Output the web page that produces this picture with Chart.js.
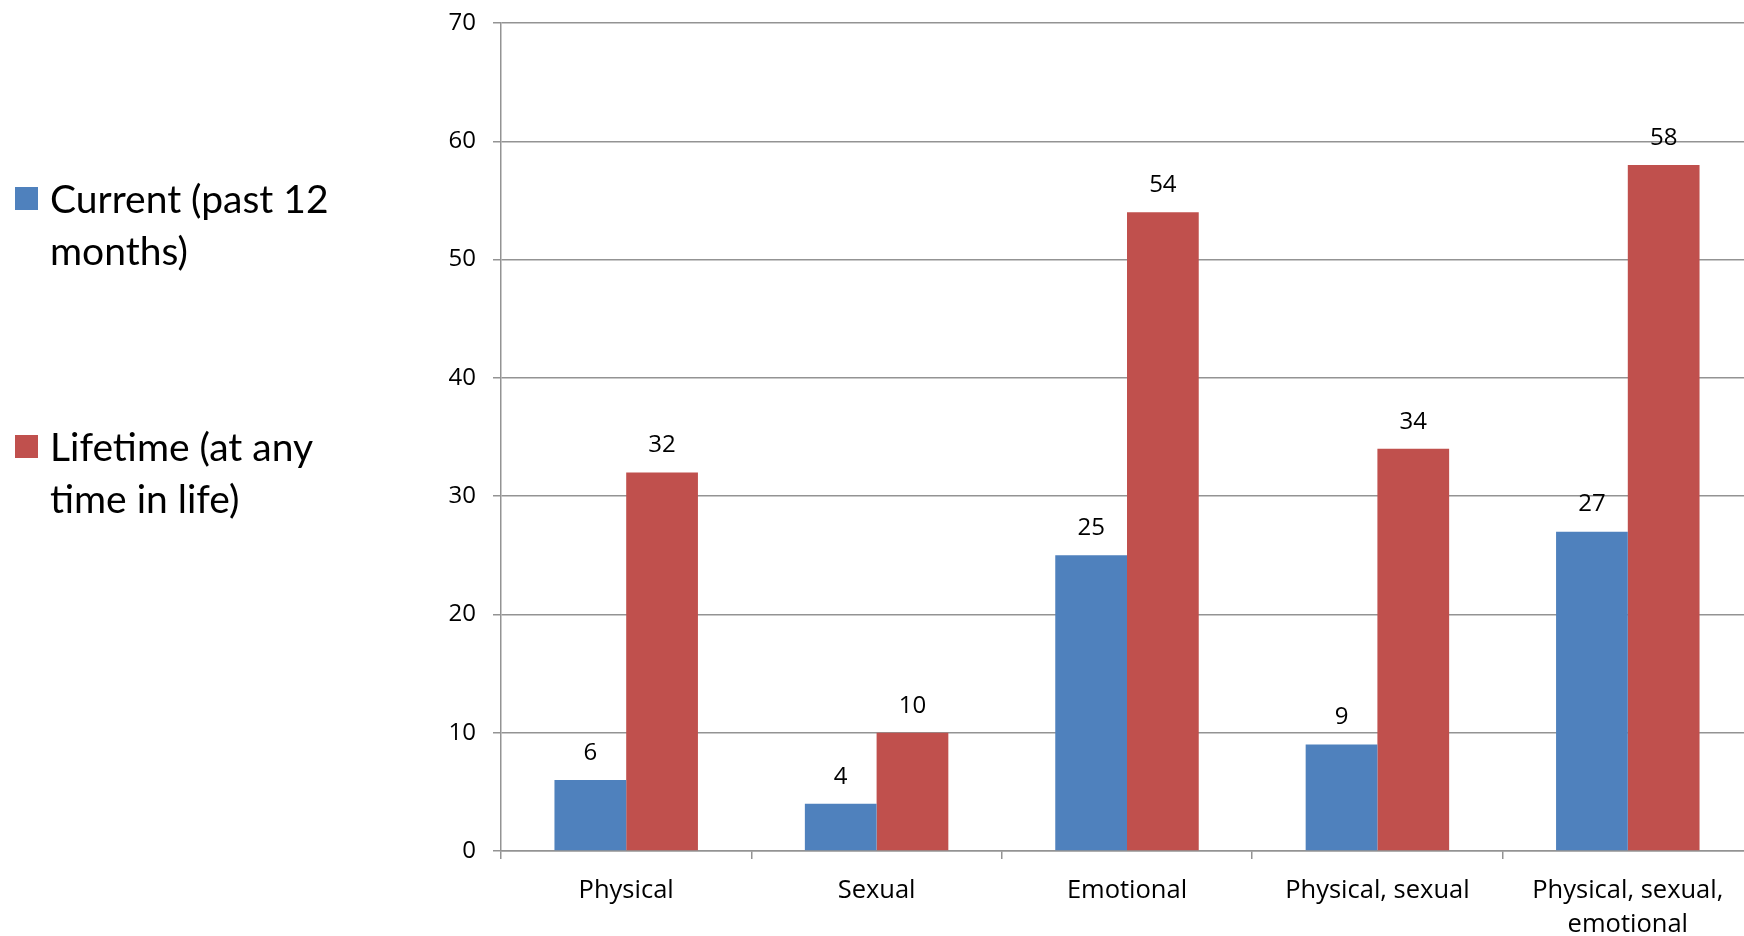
<!DOCTYPE html>
<html>
<head>
<meta charset="utf-8">
<script src="https://cdn.jsdelivr.net/npm/chart.js@4/dist/chart.umd.min.js"></script>
<style>
  html, body { margin: 0; padding: 0; background: #fff; overflow: hidden; }
  #wrap { position: relative; width: 1760px; height: 936px; }
  #legend { position: absolute; left: 0; top: 0; font-family: Lato, sans-serif; font-size: 39px; line-height: 52px; color: #000; }
  .item { position: absolute; left: 15px; width: 330px; }
  .box { position: absolute; left: 0; top: 15px; width: 23px; height: 23px; }
  .txt { margin-left: 35px; width: 300px; }
</style>
</head>
<body>
<div id="wrap">
  <canvas id="chart"></canvas>
  <div id="legend"></div>
</div>
<script>
const categories = ['Physical', 'Sexual', 'Emotional', 'Physical, sexual', ['Physical, sexual,', 'emotional']]
const seriesNames = ['Current (past 12 months)', 'Lifetime (at any time in life)']
const currentValues = [6, 4, 25, 9, 27]
const lifetimeValues = [32, 10, 54, 34, 58]
const yTicks = [0, 10, 20, 30, 40, 50, 60, 70]

const colors = ['#4F81BD', '#C0504D']
const gridColor = '#939393'

// numbers above each bar
const valueLabels = {
  id: 'valueLabels',
  afterDatasetsDraw(chart) {
    const ctx = chart.ctx
    ctx.save()
    ctx.font = '24px "Open Sans"'
    ctx.fillStyle = '#000'
    ctx.textAlign = 'center'
    ctx.textBaseline = 'middle'
    chart.data.datasets.forEach((ds, i) => {
      chart.getDatasetMeta(i).data.forEach((bar, j) => {
        ctx.fillText(ds.data[j], bar.x, bar.y - 27)
      })
    })
    ctx.restore()
  }
}

const chart = new Chart(document.getElementById('chart'), {
  type: 'bar',
  data: {
    labels: categories,
    datasets: [
      { label: seriesNames[0], data: currentValues, backgroundColor: colors[0] },
      { label: seriesNames[1], data: lifetimeValues, backgroundColor: colors[1] },
    ],
  },
  options: {
    responsive: true,
    maintainAspectRatio: false,
    animation: false,
    layout: { padding: { left: 431, top: 23, right: 7, bottom: 0 } },
    datasets: { bar: { categoryPercentage: 0.573, barPercentage: 1.0 } },
    plugins: { legend: { display: false }, tooltip: { enabled: false } },
    scales: {
      x: {
        afterFit: (s) => { s.height = 85 },
        grid: { drawOnChartArea: false, drawTicks: true, tickLength: 8, color: gridColor, lineWidth: 1.5 },
        border: { color: gridColor, width: 1.5 },
        ticks: { color: '#000', padding: 15, maxRotation: 0, autoSkip: false, font: { family: 'Open Sans', size: 25.5, lineHeight: 1.32 } },
      },
      y: {
        min: yTicks[0],
        max: yTicks[yTicks.length - 1],
        afterFit: (s) => { s.width = 70; s.paddingTop = 0; s.paddingBottom = 0 },
        afterBuildTicks: (s) => { s.ticks = yTicks.map(v => ({ value: v })) },
        grid: { color: gridColor, lineWidth: 1.5, tickLength: 8 },
        border: { color: gridColor, width: 1.5 },
        ticks: { color: '#000', padding: 17, font: { family: 'Open Sans', size: 24 } },
      },
    },
  },
  plugins: [valueLabels],
})

// html legend on the left, built from the datasets
const legendTops = [172, 420]
const legend = document.getElementById('legend')
chart.data.datasets.forEach((ds, i) => {
  const item = document.createElement('div')
  item.className = 'item'
  item.style.top = legendTops[i] + 'px'
  item.innerHTML = '<div class="box" style="background:' + ds.backgroundColor + '"></div><div class="txt">' + ds.label + '</div>'
  legend.appendChild(item)
})
</script>
</body>
</html>
